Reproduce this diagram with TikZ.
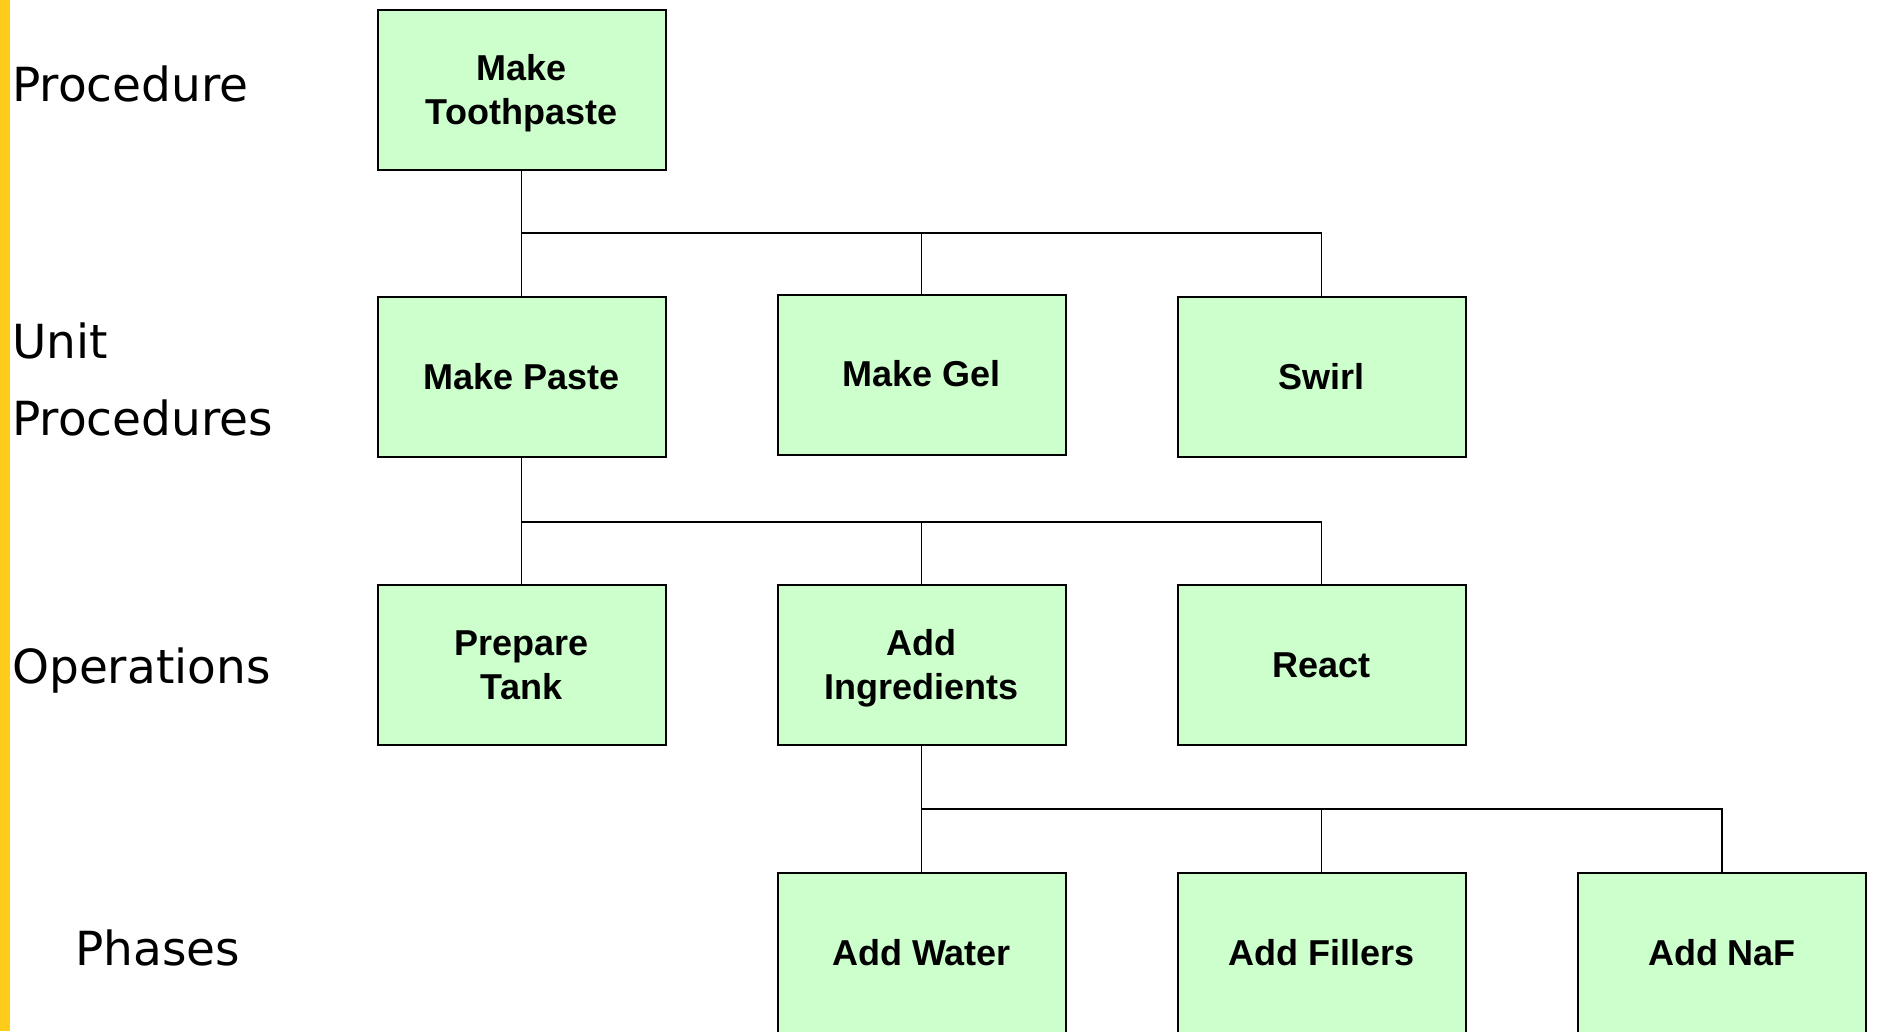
\documentclass[tikz,border=0pt]{standalone}
\usepackage{fontspec}
\setmainfont{Liberation Sans}
\newfontfamily\levelfont{DejaVu Sans}
\definecolor{boxgreen}{HTML}{CCFFCC}
\definecolor{baryellow}{HTML}{FFCC1A}
% one text line whose box is as tall as a capital, with no depth
\newcommand\capline[1]{\raisebox{0pt}[\fontcharht\font`X][0pt]{#1}}
\begin{document}
\begin{tikzpicture}[x=1pt,y=-1pt,
  box/.style={draw=black, line width=2pt, fill=boxgreen,
    minimum width=288pt, minimum height=160pt, inner sep=0pt,
    align=center, font=\fontsize{36}{44}\selectfont\bfseries},
  level/.style={anchor=base west, inner sep=0pt,
    font=\levelfont\fontsize{47}{56}\selectfont},
  link/.style={line width=1.8pt}]
\useasboundingbox (0,0) rectangle (1877,1031);
\clip (0,0) rectangle (1877,1031);
\fill[baryellow] (0,0) rectangle (10,1031);

% level labels
\node[level] (lproc) at (12,101) {Procedure};
\node[level] (lunit) at (12,358) {Unit};
\node[level] (lunitp) at (12,435) {Procedures};
\node[level] (lops) at (12,683) {Operations};
\node[level] (lphase) at (75,965) {Phases};

% hierarchy boxes
\node[box] (proc) at (521.5,90) {\capline{Make}\\\capline{Toothpaste}};
\node[box] (paste) at (521.5,377) {\capline{Make Paste}};
\node[box] (gel) at (921.5,374.5) {\capline{Make Gel}};
\node[box] (swirl) at (1321.5,377) {\capline{Swirl}};
\node[box] (tank) at (521.5,665) {\capline{Prepare}\\\capline{Tank}};
\node[box] (ingr) at (921.5,665) {\capline{Add}\\\capline{Ingredients}};
\node[box] (react) at (1321.5,665) {\capline{React}};
\node[box] (water) at (921.5,953) {\capline{Add Water}};
\node[box] (fillers) at (1321.5,953) {\capline{Add Fillers}};
\node[box] (naf) at (1722,953) {\capline{Add NaF}};

% bus rows
\coordinate (bus1) at (0,233);
\coordinate (bus2) at (0,522);
\coordinate (bus3) at (0,809);

% connectors
\draw[link] (proc.south) -- (paste.north);
\draw[link] (proc.south |- bus1) -| (swirl.north);
\draw[link] (gel.north) -- (gel.north |- bus1);

\draw[link] (paste.south) -- (tank.north);
\draw[link] (paste.south |- bus2) -| (react.north);
\draw[link] (ingr.north) -- (ingr.north |- bus2);

\draw[link] (ingr.south) -- (water.north);
\draw[link] (ingr.south |- bus3) -| (naf.north);
\draw[link] (fillers.north) -- (fillers.north |- bus3);
\end{tikzpicture}
\end{document}
